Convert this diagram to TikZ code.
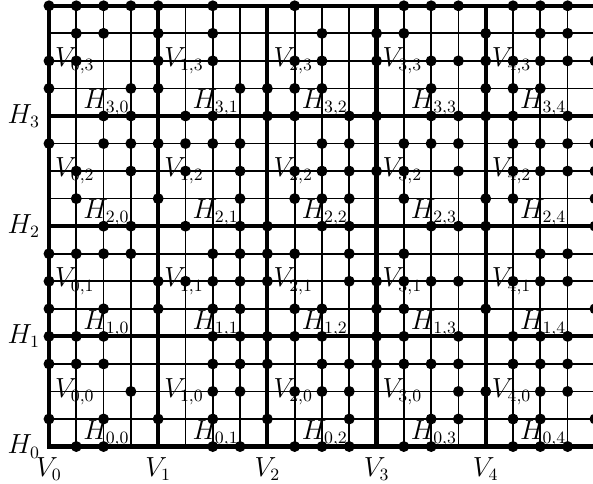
\documentclass[tikz,border=0pt]{standalone}
\usetikzlibrary{calc}

\begin{document}
\begin{tikzpicture}[x=0.5cm, y=0.5046cm,
  thinline/.style={line width=0.9pt},
  thickline/.style={line width=2.2pt, line cap=rect},
  lab/.style={inner sep=1pt, font=\fontsize{13.5}{16}\selectfont},
  vlab/.style={lab, anchor=west, xshift=2pt},
  hlab/.style={lab, anchor=north west, inner sep=0.5pt, xshift=3pt},
  hout/.style={lab, anchor=east, xshift=-3.5pt},
  vout/.style={lab, anchor=north, yshift=-4.5pt},
  dot/.style={fill=black}]
\useasboundingbox (-1.795,-1.354) rectangle (19.93,16.21);
\clip (-1.795,-1.354) rectangle (19.93,16.21);

% grid
\foreach \i in {0,...,20} \draw[thinline] (\i,0) -- (\i,16);
\foreach \j in {0,...,16} \draw[thinline] (0,\j) -- (20,\j);
\foreach \i in {0,4,...,20} \draw[thickline] (\i,0) -- (\i,16);
\foreach \j in {0,4,...,16} \draw[thickline] (0,\j) -- (20,\j);

% block labels
\foreach \a in {0,...,4} {
  \foreach \b in {0,...,3} {
    \node[vlab] (v\a\b) at (4*\a,4*\b+2) {$V_{\a,\b}$};
    \node[hlab] (h\b\a) at (4*\a+1,4*\b+1) {$H_{\b,\a}$};
  }
}
\foreach \k in {0,...,3} \node[hout] (H\k) at (0,4*\k) {$H_{\k}$};
\foreach \k in {0,...,4} \node[vout] (V\k) at (4*\k,0) {$V_{\k}$};

% dots, row by row
\foreach \j/\row in {
  16/{0,1,2,3,4,6,9,13,14,15,17,18,19},
  15/{1,2,4,6,10,12,13,16,18,19},
  14/{0,1,4,6,9,10,12,14,15,16,17,18,19,20},
  13/{0,3,4,7,8,9,10,14,16,17,18},
  12/{2,3,5,6,8,9,11,12,14,15,16,17,19},
  11/{0,2,3,4,5,6,7,10,11,13,14,15,17,18,19,20},
  10/{1,3,5,7,9,10,11,12,13,15,17,18,19,20},
  9/{1,4,7,9,10,11,13,16,17,20},
  8/{2,3,5,7,8,10,11,14,15,16,20},
  7/{0,1,2,3,6,7,8,9,11,13,18,19},
  6/{0,4,5,6,7,8,11,12,13,14,15,17,18,19},
  5/{0,2,4,6,7,9,10,12,13,16,20},
  4/{0,1,2,6,7,8,9,10,12,13,15,17,18,19},
  3/{0,1,2,6,7,8,10,11,12,13,14,15,17,18,19},
  2/{3,6,7,9,10,11,15,16,18,19},
  1/{0,2,4,6,8,11,14,15,17,18,20},
  0/{1,2,6,7,9,10,11,13,14,17,18,19}} {
  \foreach \i in \row \fill[dot] (\i,\j) circle (2.85pt);
}
\end{tikzpicture}
\end{document}
